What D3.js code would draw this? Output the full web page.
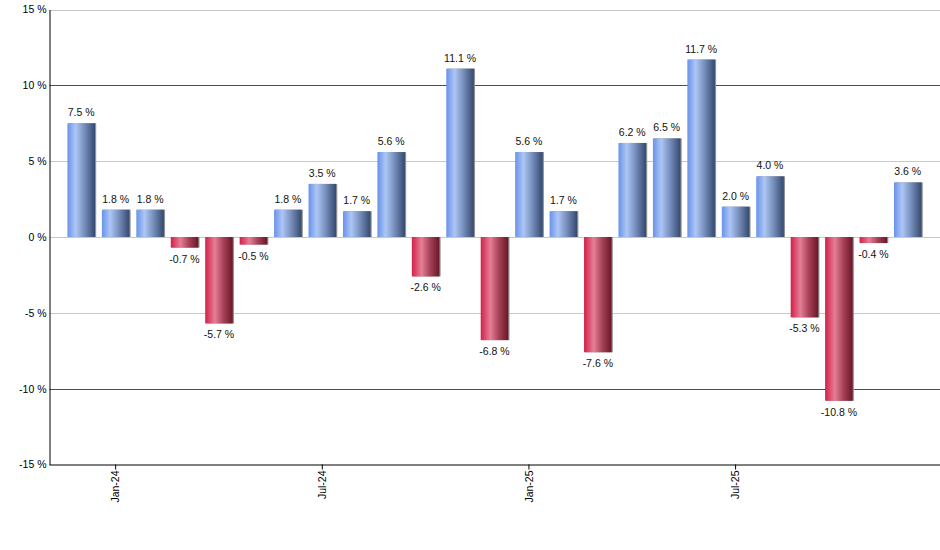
<!DOCTYPE html>
<html>
<head>
<meta charset="utf-8">
<script src="https://cdn.jsdelivr.net/npm/d3@7"></script>
<style>
  body { margin: 0; background: #fff; }
  svg { display: block; font-family: "Liberation Sans", Arial, sans-serif; }
  .axis path, .axis line { stroke: #000; }
  .axis text { font-size: 10.5px; fill: #000; }
  .valLabel { font-size: 10.5px; fill: #111; }
</style>
</head>
<body>
<svg id="chart" width="940" height="550"></svg>
<script>
// 月のリスト (Dec-23 〜 Dec-25)
var months = ["Dec-23", "Jan-24", "Feb-24", "Mar-24", "Apr-24", "May-24", "Jun-24",
  "Jul-24", "Aug-24", "Sep-24", "Oct-24", "Nov-24", "Dec-24", "Jan-25", "Feb-25",
  "Mar-25", "Apr-25", "May-25", "Jun-25", "Jul-25", "Aug-25", "Sep-25", "Oct-25",
  "Nov-25", "Dec-25"];
// 月ごとのリターン(%)
var returns = [7.5, 1.8, 1.8, -0.7, -5.7, -0.5, 1.8, 3.5, 1.7, 5.6, -2.6, 11.1, -6.8,
  5.6, 1.7, -7.6, 6.2, 6.5, 11.7, 2.0, 4.0, -5.3, -10.8, -0.4, 3.6];
// 軸の目盛り
var yTicks = [-15, -10, -5, 0, 5, 10, 15];
var xTickLabels = ["Jan-24", "Jul-24", "Jan-25", "Jul-25"];
// 緑で引く基準線
var limitLines = [10, -10];

var svg = d3.select("#chart");
var plotLeft = 49.5, plotRight = 940, plotTop = 9.5, plotBottom = 464.5;

var y = d3.scaleLinear().domain([-15, 15]).range([plotBottom, plotTop]);
var x = d3.scaleBand().domain(months).range([64, 925]).paddingInner(0.2).paddingOuter(0.1);

var data = months.map((m, i) => ({ month: m, value: returns[i] }));

// グラデーション定義
var defs = svg.append("defs");
function makeGrad(id, stops) {
  var g = defs.append("linearGradient").attr("id", id)
    .attr("x1", "0%").attr("x2", "100%").attr("y1", "0%").attr("y2", "0%");
  stops.forEach((s) => g.append("stop").attr("offset", s[0]).attr("stop-color", s[1]));
}
makeGrad("gradUp", [["0%", "#6893ea"], ["30%", "#adc6f5"], ["60%", "#7a92c0"], ["100%", "#34496f"]]);
makeGrad("gradDown", [["0%", "#d41f48"], ["35%", "#e47f96"], ["65%", "#a8435a"], ["100%", "#6a1626"]]);

// グリッド線
svg.append("g").selectAll("line")
  .data(yTicks.filter((t) => limitLines.indexOf(t) < 0 && t != -15))
  .enter().append("line")
  .attr("x1", plotLeft).attr("x2", plotRight)
  .attr("y1", (d) => Math.round(y(d)) + 0.5).attr("y2", (d) => Math.round(y(d)) + 0.5)
  .attr("stroke", "#c8c8c8");

svg.append("g").selectAll("line")
  .data(limitLines)
  .enter().append("line")
  .attr("x1", plotLeft).attr("x2", plotRight)
  .attr("y1", (d) => Math.round(y(d)) + 0.5).attr("y2", (d) => Math.round(y(d)) + 0.5)
  .attr("stroke", "#117711");

// 棒の影
var bars = svg.append("g");
bars.selectAll("rect.shadow")
  .data(data).enter().append("rect")
  .attr("class", "shadow")
  .attr("x", (d) => x(d.month) + 1.2)
  .attr("y", (d) => y(Math.max(0, d.value)))
  .attr("width", x.bandwidth())
  .attr("height", (d) => Math.abs(y(d.value) - y(0)))
  .attr("fill", "#909090");

// 棒本体
bars.selectAll("rect.bar")
  .data(data).enter().append("rect")
  .attr("class", "bar")
  .attr("x", (d) => x(d.month))
  .attr("y", (d) => y(Math.max(0, d.value)))
  .attr("width", x.bandwidth())
  .attr("height", (d) => Math.abs(y(d.value) - y(0)))
  .attr("fill", (d) => d.value >= 0 ? "url(#gradUp)" : "url(#gradDown)");

// 値ラベル
svg.append("g").selectAll("text")
  .data(data).enter().append("text")
  .attr("class", "valLabel")
  .attr("text-anchor", "middle")
  .attr("x", (d) => x(d.month) + x.bandwidth() / 2)
  .attr("y", (d) => d.value >= 0 ? y(d.value) - 7 : y(d.value) + 15)
  .text((d) => `${d.value.toFixed(1)} %`);

// y軸
svg.append("g")
  .attr("class", "axis")
  .attr("transform", `translate(${plotLeft},0)`)
  .call(d3.axisLeft(y).tickValues(yTicks).tickSizeInner(0).tickSizeOuter(0).tickPadding(3)
    .tickFormat((d) => `${d} %`));

// x軸
var xAxis = svg.append("g")
  .attr("class", "axis")
  .attr("transform", `translate(0,${plotBottom})`)
  .call(d3.axisBottom(x).tickValues(xTickLabels).tickSizeInner(5).tickSizeOuter(0));
xAxis.select(".domain").attr("d", `M${plotLeft},0.5H${plotRight}`);
xAxis.selectAll(".tick text")
  .attr("transform", "rotate(-90)")
  .attr("text-anchor", "end")
  .attr("x", -6)
  .attr("y", 0)
  .attr("dy", "0.35em");
</script>
</body>
</html>
